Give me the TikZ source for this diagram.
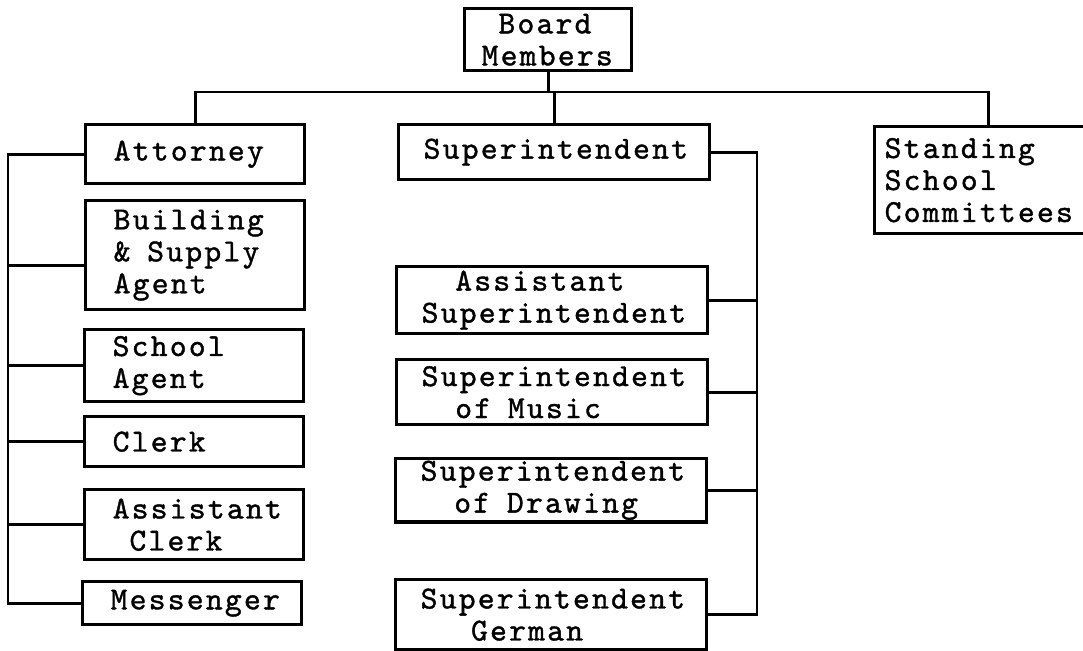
\documentclass[tikz,border=0pt]{standalone}
\usepackage{fontspec}
\setmonofont{lmmono10-regular.otf}[LetterSpace=7, FakeBold=1.2]
\usepackage{tikz}
\usetikzlibrary{positioning}
\hfuzz=30pt
\newcommand\tyspc{\phantom{x}}

\begin{document}
\begin{tikzpicture}[x=0.5pt, y=-0.5pt,
    font=\ttfamily\fontsize{16}{16}\selectfont,
    unit/.style={draw, line width=1.7pt, anchor=north west, align=left, inner ysep=1pt},
    lunit/.style={unit, text width=81.5pt, inner xsep=14pt},
    munit/.style={unit, text width=130.5pt, inner xsep=12.5pt},
    link/.style={line width=1.4pt}]
  \useasboundingbox (0,0) rectangle (1083,651);

  \node (board) [unit, text width=66.5pt, inner xsep=8.5pt, minimum height=31pt] at (463,7) {\tyspc Board\\Members};

  \node (att) [lunit, minimum height=29.5pt] at (84,123) {Attorney};
  \node (bsa) [lunit, minimum height=54.5pt] at (84,199) {Building\\\&\tyspc Supply\\Agent};
  \node (sagent) [lunit, minimum height=36pt] at (83,328) {School\\Agent};
  \node (clerk) [lunit, minimum height=25pt] at (83,415) {Clerk};
  \node (aclerk) [lunit, minimum height=35pt] at (83,488) {Assistant\\\tyspc Clerk};
  \node (msg) [lunit, minimum height=21.5pt] at (81,580) {Messenger};

  \node (sup) [munit, minimum height=27.5pt] at (397,123) {Superintendent};
  \node (asup) [munit, minimum height=33.5pt] at (395,265) {\tyspc\tyspc Assistant\\Superintendent};
  \node (smusic) [munit, minimum height=32.5pt] at (395,358) {Superintendent\\\tyspc\tyspc of\tyspc Music};
  \node (sdraw) [munit, minimum height=31.5pt] at (394,457) {Superintendent\\\tyspc\tyspc of\tyspc Drawing};
  \node (sgerm) [munit, minimum height=35pt] at (394,578) {Superintendent\\\tyspc\tyspc\tyspc German};

  \node (ssc) [unit, text width=103.5pt, inner xsep=5pt, minimum height=53.5pt] at (873,125) {Standing\\School\\Committees};

  \coordinate (bus) at (546,92);
  \coordinate (lbus) at (8,0);
  \coordinate (rbus) at (757,0);

  \draw[link] (board.south) -- (board.south |- bus);
  \draw[link] (att.north) -- (att.north |- bus) -- (ssc.north |- bus) -- (ssc.north);
  \draw[link] (sup.north |- bus) -- (sup.north);

  \draw[link] (att.west) -- (att.west -| lbus) -- (msg.west -| lbus) -- (msg.west);
  \draw[link] ([yshift=-5pt]bsa.west) -- ([yshift=-5pt]bsa.west -| lbus);
  \draw[link] (sagent.west) -- (sagent.west -| lbus);
  \draw[link] (clerk.west) -- (clerk.west -| lbus);
  \draw[link] (aclerk.west) -- (aclerk.west -| lbus);

  \draw[link] (sup.east) -- (sup.east -| rbus) -- (sgerm.east -| rbus) -- (sgerm.east);
  \draw[link] (asup.east) -- (asup.east -| rbus);
  \draw[link] (smusic.east) -- (smusic.east -| rbus);
  \draw[link] (sdraw.east) -- (sdraw.east -| rbus);
\end{tikzpicture}
\end{document}
